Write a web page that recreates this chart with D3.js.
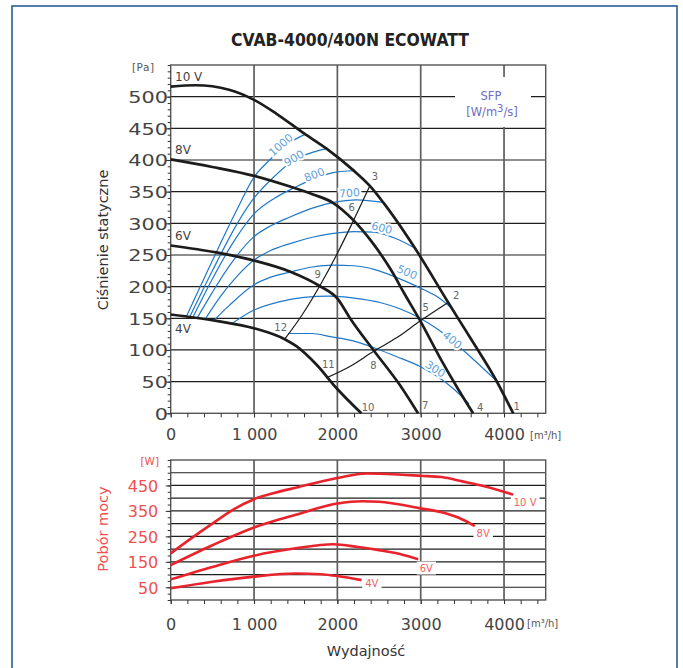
<!DOCTYPE html>
<html><head><meta charset="utf-8">
<script src="https://cdn.jsdelivr.net/npm/d3@7"></script>
<style>
body{margin:0;background:#fff}
svg{display:block}
text{font-family:"DejaVu Sans",sans-serif}
</style>
</head><body>
<svg id="c" width="683" height="668"></svg>
<script>
// ---------- DATA ----------
const chartTitle = "CVAB-4000/400N ECOWATT";
const flowTicks = [0, 1000, 2000, 3000, 4000];
const flowTickLabels = ["0", "1 000", "2000", "3000", "4000"];
const pressureTicks = [0, 50, 100, 150, 200, 250, 300, 350, 400, 450, 500];
const powerTicks = [50, 150, 250, 350, 450];
const powerGrid = [50, 100, 150, 200, 250, 300, 350, 400, 450, 500];

// fan curves [flow m3/h, static pressure Pa]
const fan10V = [[0,516],[300,518],[700,511],[1000,495],[1270,473],[1600,442],[1870,418],[2190,384],[2390,359],[2550,333],[2930,261],[3330,175],[3600,118],[3910,51],[4110,0]];
const fan8V  = [[0,401],[500,389],[1000,375],[1432,358],[1700,346],[1952,332],[2192,305],[2400,273],[2650,225],[2800,190],[2990,147],[3230,88],[3450,38],[3629,0]];
const fan6V  = [[0,265],[548,254],[1008,241],[1428,224],[1788,201],[2008,180],[2148,151],[2432,100],[2748,45],[2968,0]];
const fan4V  = [[0,156],[548,146],[1008,134],[1368,117],[1508,106],[1748,77],[1988,40],[2288,0]];
const fanNames = ["10 V", "8V", "6V", "4V"];
const fanNameAt = [[52,532],[52,417],[52,280],[52,133]];

// SFP iso-lines [flow, pressure]
const sfpValues = ["1000","900","800","700","600","500","400","300"];
const sfp1000 = [[188,153],[400,213],[600,269],[800,323],[1000,373],[1172,398],[1400,425],[1604,440]];
const sfp900  = [[228,152],[500,225],[800,300],[1000,340],[1212,370],[1481,400],[1700,412],[1872,418]];
const sfp800  = [[268,152],[500,212],[750,270],[1000,315],[1250,340],[1480,356],[1724,371],[1950,380],[2192,383]];
const sfp700  = [[320,151],[500,191],[700,232],[1000,279],[1200,296],[1432,310],[1700,324],[1952,333],[2232,337],[2549,333]];
const sfp600  = [[416,149],[600,185],[800,217],[1000,242],[1200,257],[1432,268],[1700,278],[1952,284],[2200,287],[2432,286],[2700,276],[2929,261]];
const sfp500  = [[520,147],[700,170],[1000,203],[1200,215],[1432,223],[1700,231],[1950,234],[2200,233],[2450,227],[2700,215],[2992,198],[3200,184],[3380,165]];
const sfp400  = [[728,141],[1000,163],[1300,176],[1600,183],[1900,185],[2200,182],[2512,175],[2750,165],[2992,150],[3200,133],[3392,113],[3650,83],[3910,51]];
const sfp300  = [[1410,126],[1700,126],[1912,121],[2200,114],[2432,104],[2700,90],[2992,74],[3200,58],[3400,38],[3580,15]];
const sfpLabelAt = [[1320,424],[1480,403],[1724,377],[2144,348],[2533,293],[2837,223],[3381,116],[3177,70]];

// system curves
const systemA = [[1368,117],[1580,156],[1788,201],[1990,250],[2192,304],[2389,359]];
const systemB = [[1868,56],[2150,74],[2436,98],[2720,120],[2996,146],[3329,175]];

// operating point numbers [label, flow, pressure]
const pointLabels = [["1",4153,11],["2",3425,186],["3",2452,374],["4",3713,10],["5",3061,167],["6",2173,325],
                     ["7",3053,13],["8",2432,75],["9",1765,220],["10",2369,10],["11",1892,77],["12",1320,136]];

// power consumption [flow, W]
const power10V = [[0,183],[250,243],[500,300],[750,355],[1000,396],[1250,421],[1500,441],[2000,479],[2350,497],[2600,495],[3000,488],[3250,483],[3500,466],[3750,448],[4110,414]];
const power8V  = [[0,137],[500,215],[1000,285],[1500,335],[2000,379],[2300,388],[2500,386],[3000,360],[3250,345],[3450,324],[3650,290]];
const power6V  = [[0,81],[500,130],[1000,174],[1500,203],[1950,219],[2250,208],[2500,196],[2750,181],[2970,160]];
const power4V  = [[0,46],[500,72],[1000,92],[1500,104],[1800,101],[2000,94],[2290,78]];
const powerNames = ["10 V","8V","6V","4V"];
const powerNameAt = [[4253,383],[3749,263],[3067,126],[2413,66]];

// ---------- DRAW ----------
const svg = d3.select("#c");
const x = d3.scaleLinear().domain([0,4500]).range([170.7,545.7]);
const yP = d3.scaleLinear().domain([0,550]).range([413.3,65]);
const yW = d3.scaleLinear().domain([0,550]).range([600,460]);

svg.append("rect").attr("width",683).attr("height",668).attr("fill","#fff");
svg.append("rect").attr("x",12).attr("y",6).attr("width",665).attr("height",700)
  .attr("fill","none").attr("stroke","#2b5d95").attr("stroke-width",1.6);

svg.append("text").attr("x",350).attr("y",46).attr("text-anchor","middle")
  .attr("font-size",17).attr("font-weight","bold").attr("fill","#222")
  .attr("textLength",238).attr("lengthAdjust","spacingAndGlyphs").text(chartTitle);

function panel(y, grid, yDomainTop){
  const g = svg.append("g");
  g.selectAll("line.h").data(grid).join("line")
    .attr("x1",x(0)).attr("x2",x(4500)).attr("y1",d=>y(d)).attr("y2",d=>y(d))
    .attr("stroke","#1e1e1e").attr("stroke-width",1.2);
  g.selectAll("line.v").data(flowTicks.slice(1)).join("line")
    .attr("x1",d=>x(d)).attr("x2",d=>x(d)).attr("y1",y(0)).attr("y2",y(yDomainTop))
    .attr("stroke","#5e5e5e").attr("stroke-width",1.7);
  g.append("rect").attr("x",x(0)).attr("y",y(yDomainTop)).attr("width",x(4500)-x(0)).attr("height",y(0)-y(yDomainTop))
    .attr("fill","none").attr("stroke","#555").attr("stroke-width",1.4);
  return g;
}

// ===== top panel =====
panel(yP, d3.range(50,501,50), 550);
svg.append("rect").attr("x",455).attr("y",77).attr("width",76).attr("height",50).attr("fill","#fff");
svg.append("text").attr("x",491).attr("y",100).attr("text-anchor","middle").attr("font-size",11.5).attr("fill","#6e6ec2").text("SFP");
const sfpUnit = svg.append("text").attr("x",492).attr("y",116).attr("text-anchor","middle").attr("font-size",11.5).attr("fill","#6e6ec2");
sfpUnit.append("tspan").text("[W/m");
sfpUnit.append("tspan").attr("dy",-4).attr("font-size",10).text("3");
sfpUnit.append("tspan").attr("dy",4).text("/s]");

const axTopYMinor = svg.append("g").attr("transform",`translate(${x(0)},0)`)
  .call(d3.axisLeft(yP).tickValues(d3.range(0,551,10)).tickSize(3).tickFormat(""));
const axTopY = svg.append("g").attr("transform",`translate(${x(0)},0)`)
  .call(d3.axisLeft(yP).tickValues(pressureTicks).tickSize(5).tickPadding(2));
const axTopXMinor = svg.append("g").attr("transform",`translate(0,${yP(0)})`)
  .call(d3.axisBottom(x).tickValues(d3.range(0,4501,200)).tickSize(4).tickFormat(""));
const axTopX = svg.append("g").attr("transform",`translate(0,${yP(0)})`)
  .call(d3.axisBottom(x).tickValues(flowTicks).tickSize(4).tickFormat((d,i)=>flowTickLabels[i]));
[axTopYMinor,axTopY,axTopXMinor,axTopX].forEach(a=>{a.select(".domain").remove();a.selectAll("line").attr("stroke","#333");});
axTopY.selectAll("text").attr("font-size",16).attr("fill","#444")
  .attr("x",0).attr("dy","0.36em").attr("transform","translate(-2.8,0) scale(1.3,1)").attr("font-family","DejaVu Sans");
axTopX.selectAll("text").attr("font-size",16).attr("fill","#444").attr("y",15.3).attr("font-family","DejaVu Sans");
svg.append("text").attr("x",132).attr("y",71).attr("font-size",10.5).attr("fill","#555").attr("letter-spacing",0.5).text("[Pa]");
svg.append("text").attr("x",530).attr("y",439).attr("font-size",10).attr("fill","#555").text("[m³/h]");
svg.append("text").attr("transform","translate(108,240) rotate(-90)").attr("text-anchor","middle")
  .attr("font-size",14.5).attr("fill","#333").text("Ciśnienie statyczne");

const line = d3.line().x(d=>x(d[0])).y(d=>yP(d[1])).curve(d3.curveMonotoneX);

// SFP curves
const sfpCurves = [sfp1000,sfp900,sfp800,sfp700,sfp600,sfp500,sfp400,sfp300];
const sfpPaths = svg.append("g").selectAll("path").data(sfpCurves).join("path")
  .attr("d",line).attr("fill","none").attr("stroke","#1f78c8").attr("stroke-width",1.2);

function angleAt(node, px){
  const L = node.getTotalLength();
  let lo=0, hi=L;
  for(let k=0;k<40;k++){const m=(lo+hi)/2; if(node.getPointAtLength(m).x<px) lo=m; else hi=m;}
  const a=node.getPointAtLength(Math.max(0,lo-5)), b=node.getPointAtLength(Math.min(L,lo+5));
  return Math.atan2(b.y-a.y,b.x-a.x)*180/Math.PI;
}
const sfpNodes = sfpPaths.nodes();
svg.append("g").selectAll("text").data(sfpValues).join("text")
  .attr("transform",(d,i)=>{
    const px=x(sfpLabelAt[i][0]), py=yP(sfpLabelAt[i][1]);
    return `translate(${px},${py}) rotate(${angleAt(sfpNodes[i],px)})`;})
  .attr("text-anchor","middle").attr("dy","0.36em").attr("font-size",11)
  .attr("fill","#5fa2dc").attr("stroke","#fff").attr("stroke-width",4).attr("paint-order","stroke")
  .text(d=>d);

// system curves
svg.append("g").selectAll("path").data([systemA,systemB]).join("path")
  .attr("d",line).attr("fill","none").attr("stroke","#1a1a1a").attr("stroke-width",1.2);

// fan curves
svg.append("g").selectAll("path").data([fan10V,fan8V,fan6V,fan4V]).join("path")
  .attr("d",line).attr("fill","none").attr("stroke","#1c1c1c").attr("stroke-width",2.7);

svg.append("g").selectAll("text").data(fanNames).join("text")
  .attr("x",(d,i)=>x(fanNameAt[i][0])).attr("y",(d,i)=>yP(fanNameAt[i][1]))
  .attr("dy","0.36em").attr("font-size",12).attr("fill","#444").text(d=>d);

svg.append("g").selectAll("text").data(pointLabels).join("text")
  .attr("x",d=>x(d[1])).attr("y",d=>yP(d[2])).attr("dy","0.36em").attr("text-anchor","middle")
  .attr("font-size",10).attr("fill","#666").text(d=>d[0]);

// ===== bottom panel =====
panel(yW, powerGrid, 550);
const axBYMinor = svg.append("g").attr("transform",`translate(${x(0)},0)`)
  .call(d3.axisLeft(yW).tickValues(d3.range(0,551,25)).tickSize(3).tickFormat(""));
const axBY = svg.append("g").attr("transform",`translate(${x(0)},0)`)
  .call(d3.axisLeft(yW).tickValues(powerTicks).tickSize(5).tickPadding(2));
const axBXMinor = svg.append("g").attr("transform",`translate(0,${yW(0)})`)
  .call(d3.axisBottom(x).tickValues(d3.range(0,4501,200)).tickSize(4).tickFormat(""));
const axBX = svg.append("g").attr("transform",`translate(0,${yW(0)})`)
  .call(d3.axisBottom(x).tickValues(flowTicks).tickSize(4).tickFormat((d,i)=>flowTickLabels[i]));
[axBYMinor,axBY,axBXMinor,axBX].forEach(a=>{a.select(".domain").remove();a.selectAll("line").attr("stroke","#333");});
axBY.selectAll("text").attr("font-size",16).attr("fill","#f05050").attr("x",-12.4).attr("dy","0.36em").attr("font-family","DejaVu Sans");
axBX.selectAll("text").attr("font-size",16).attr("fill","#444").attr("y",18.6).attr("font-family","DejaVu Sans");
svg.append("text").attr("x",140.5).attr("y",465).attr("font-size",10.5).attr("fill","#f05050").text("[W]");
svg.append("text").attr("x",527).attr("y",627).attr("font-size",10).attr("fill","#555").text("[m³/h]");
svg.append("text").attr("transform","translate(108,529) rotate(-90)").attr("text-anchor","middle")
  .attr("font-size",14.5).attr("fill","#f05050").text("Pobór mocy");
svg.append("text").attr("x",366).attr("y",656).attr("text-anchor","middle")
  .attr("font-size",14.5).attr("fill","#333").text("Wydajność");

const lineW = d3.line().x(d=>x(d[0])).y(d=>yW(d[1])).curve(d3.curveMonotoneX);
svg.append("g").selectAll("path").data([power10V,power8V,power6V,power4V]).join("path")
  .attr("d",lineW).attr("fill","none").attr("stroke","#e8232b").attr("stroke-width",2.6);

const pl = svg.append("g").selectAll("g").data(powerNames).join("g")
  .attr("transform",(d,i)=>`translate(${x(powerNameAt[i][0])},${yW(powerNameAt[i][1])})`);
pl.append("rect").attr("fill","#fff");
pl.append("text").attr("text-anchor","middle").attr("dy","0.36em").attr("font-size",10)
  .attr("fill","#f26464").text(d=>d);
pl.each(function(){
  const g=d3.select(this), bb=g.select("text").node().getBBox();
  g.select("rect").attr("x",bb.x-3).attr("y",bb.y-1).attr("width",bb.width+6).attr("height",bb.height+2);
});
</script>
</body></html>
